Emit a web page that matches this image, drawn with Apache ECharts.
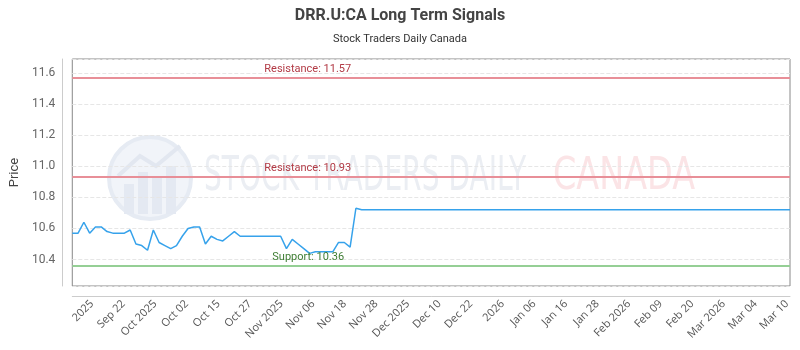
<!DOCTYPE html>
<html lang="en">
<head>
    <meta charset="UTF-8">
    <title>DRR.U:CA Long Term Signals</title>
    <script src="https://cdn.jsdelivr.net/npm/echarts@6/dist/echarts.min.js"></script>
    <style>
        html, body { margin: 0; padding: 0; background: #fff; }
    </style>
</head>
<body>
    <div id="main" style="width: 800px;height:350px;"></div>

    <script>
        // tick labels shown under the x axis
        var tickLabels = ['2025', 'Sep 22', 'Oct 2025', 'Oct 02', 'Oct 15', 'Oct 27', 'Nov 2025', 'Nov 06',
            'Nov 18', 'Nov 28', 'Dec 2025', 'Dec 10', 'Dec 22', '2026', 'Jan 06', 'Jan 16', 'Jan 28',
            'Feb 2026', 'Feb 09', 'Feb 20', 'Mar 2026', 'Mar 04', 'Mar 10'];

        // price readings (one per session)
        var prices = [
            10.57, 10.57, 10.64, 10.57, 10.61, 10.61, 10.58, 10.57, 10.57, 10.57,
            10.59, 10.50, 10.49, 10.46, 10.59, 10.51, 10.49, 10.47, 10.49, 10.55,
            10.60, 10.61, 10.61, 10.50, 10.55, 10.53, 10.52, 10.55, 10.58, 10.55,
            10.55, 10.55, 10.55, 10.55, 10.55, 10.55, 10.55, 10.47, 10.53, 10.50,
            10.47, 10.44, 10.45, 10.45, 10.45, 10.45, 10.51, 10.51, 10.48, 10.73,
            10.72, 10.72, 10.72, 10.72, 10.72, 10.72, 10.72, 10.72, 10.72, 10.72,
            10.72, 10.72, 10.72, 10.72, 10.72, 10.72, 10.72, 10.72, 10.72, 10.72,
            10.72, 10.72, 10.72, 10.72, 10.72, 10.72, 10.72, 10.72, 10.72, 10.72,
            10.72, 10.72, 10.72, 10.72, 10.72, 10.72, 10.72, 10.72, 10.72, 10.72,
            10.72, 10.72, 10.72, 10.72, 10.72, 10.72, 10.72, 10.72, 10.72, 10.72,
            10.72, 10.72, 10.72, 10.72, 10.72, 10.72, 10.72, 10.72, 10.72, 10.72,
            10.72, 10.72, 10.72, 10.72, 10.72, 10.72, 10.72, 10.72, 10.72, 10.72,
            10.72, 10.72, 10.72, 10.72, 10.72
        ];

        var resistanceLevels = [11.57, 10.93];
        var supportLevels = [10.36];

        var sessions = prices.map(function (p, i) { return String(i); });

        var font = 'Roboto';

        var levelLines = [];
        resistanceLevels.forEach(function (v) {
            levelLines.push({
                yAxis: v,
                lineStyle: { color: '#e88f98', width: 2, type: 'solid' },
                label: { formatter: 'Resistance: ' + v.toFixed(2), color: '#b23a45', distance: [192, 3] }
            });
        });
        supportLevels.forEach(function (v) {
            levelLines.push({
                yAxis: v,
                lineStyle: { color: '#95cf95', width: 2, type: 'solid' },
                label: { formatter: 'Support: ' + v.toFixed(2), color: '#3e7d33', distance: [200, 3] }
            });
        });

        var myChart = echarts.init(document.getElementById('main'));
        var option = {
            animation: false,
            textStyle: { fontFamily: font },
            title: {
                text: 'DRR.U:CA Long Term Signals',
                subtext: 'Stock Traders Daily Canada',
                left: 'center',
                top: 3,
                itemGap: 10,
                textStyle: { fontFamily: font, fontSize: 16, fontWeight: 'bold', color: '#444' },
                subtextStyle: { fontFamily: font, fontSize: 11, color: '#333' }
            },
            graphic: [
                {
                    type: 'group', z: 0, silent: true,
                    children: [
                        { type: 'circle', shape: { cx: 150, cy: 178, r: 41 },
                          style: { fill: '#f1f4f9', stroke: '#e6ebf3', lineWidth: 4 } },
                        { type: 'rect', shape: { x: 124, y: 184, width: 10, height: 30 }, style: { fill: '#e4e9f2' } },
                        { type: 'rect', shape: { x: 138, y: 172, width: 10, height: 42 }, style: { fill: '#e4e9f2' } },
                        { type: 'rect', shape: { x: 152, y: 178, width: 10, height: 36 }, style: { fill: '#e4e9f2' } },
                        { type: 'rect', shape: { x: 166, y: 166, width: 10, height: 48 }, style: { fill: '#e4e9f2' } },
                        { type: 'polyline', shape: { points: [[118, 176], [140, 156], [156, 166], [180, 146]] },
                          style: { stroke: '#e2e7f0', lineWidth: 4, fill: null } },
                        { type: 'text', x: 204, y: 178, scaleX: 0.585,
                          style: { text: 'STOCK TRADERS DAILY', font: '48px "DejaVu Sans"', fill: '#ebeef3', verticalAlign: 'middle' } },
                        { type: 'text', x: 553, y: 178, scaleX: 0.76,
                          style: { text: 'CANADA', font: '44px "DejaVu Sans"', fill: '#fbe4e6', verticalAlign: 'middle' } }
                    ]
                }
            ],
            grid: [
                { left: 70, right: 10, top: 59, bottom: 64, show: true, borderColor: '#888', borderWidth: 1, backgroundColor: 'transparent' },
                { left: 92, right: 13, top: 59, bottom: 64, show: false }
            ],
            xAxis: [
                {
                    type: 'category',
                    gridIndex: 0,
                    data: sessions,
                    boundaryGap: false,
                    offset: 10,
                    axisLine: { show: true, lineStyle: { color: '#ccc' } },
                    axisTick: { show: false },
                    axisLabel: { show: false },
                    splitLine: { show: false }
                },
                {
                    type: 'category',
                    gridIndex: 1,
                    data: tickLabels,
                    boundaryGap: false,
                    offset: 10,
                    axisLine: { show: false },
                    axisTick: { show: false },
                    axisLabel: { interval: 0, rotate: 45, margin: 6, fontSize: 11, color: '#555', fontFamily: 'Open Sans' },
                    splitLine: { show: false }
                }
            ],
            yAxis: [
                {
                    type: 'value',
                    gridIndex: 0,
                    min: 10.23,
                    max: 11.69,
                    splitNumber: 7,
                    offset: 10,
                    name: 'Price',
                    nameLocation: 'middle',
                    nameGap: 38,
                    nameTextStyle: { fontSize: 13, color: '#444', fontFamily: font },
                    axisLine: { show: true, lineStyle: { color: '#ccc' } },
                    axisTick: { show: false },
                    axisLabel: {
                        fontSize: 12, color: '#666', margin: 7, showMinLabel: false, showMaxLabel: false,
                        formatter: function (v) { return v.toFixed(1); }
                    },
                    splitLine: { show: true, lineStyle: { color: '#e6e6e6', type: 'dashed' } }
                },
                { type: 'value', gridIndex: 1, show: false }
            ],
            series: [
                {
                    name: 'Price',
                    type: 'line',
                    xAxisIndex: 0,
                    yAxisIndex: 0,
                    data: prices,
                    showSymbol: false,
                    symbol: 'none',
                    lineStyle: { color: '#36a2eb', width: 1.5 },
                    itemStyle: { color: '#36a2eb' },
                    z: 3,
                    markLine: {
                        silent: true,
                        symbol: ['none', 'none'],
                        animation: false,
                        label: { position: 'insideStartTop', distance: [195, 3], fontSize: 11, fontFamily: font },
                        data: levelLines
                    }
                }
            ]
        };

        myChart.setOption(option);
    </script>
</body>
</html>
